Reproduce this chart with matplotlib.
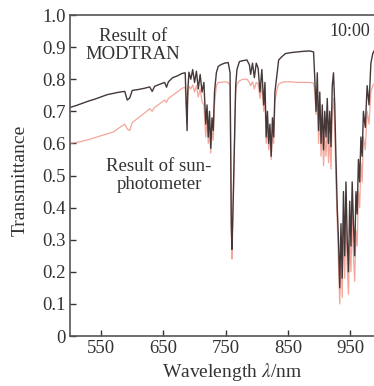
import matplotlib
matplotlib.use('Agg')
import matplotlib.pyplot as plt

# spectre (nm, transmittance)
wl = [500, 510, 520, 530, 540, 550, 560, 570, 580, 588, 592, 596, 600, 610, 620,
      628, 632, 636, 645, 652, 655, 658, 665, 672, 680, 685, 687, 688, 689, 691,
      694, 697, 700, 703, 706, 709, 712, 715, 718, 720, 722, 724, 726, 728, 730,
      732, 735, 738, 742, 748, 754, 757, 759, 760, 762, 764, 766, 768, 772, 778,
      784, 788, 790, 793, 796, 799, 802, 805, 808, 811, 813, 815, 817, 819, 821,
      823, 825, 827, 829, 832, 835, 840, 846, 855, 865, 875, 885, 891, 893, 895,
      897, 899, 901, 903, 905, 907, 909, 911, 913, 915, 917, 919, 921, 923, 925,
      927, 929, 931, 933, 935, 937, 939, 941, 943, 945, 947, 949, 951, 953, 955,
      957, 959, 961, 963, 965, 967, 969, 971, 974, 977, 980, 983, 986, 990]

modtran = [0.712, 0.718, 0.725, 0.732, 0.738, 0.745, 0.752, 0.756, 0.760, 0.762, 0.735, 0.742, 0.765, 0.768, 0.772,
           0.776, 0.762, 0.778, 0.785, 0.790, 0.775, 0.792, 0.805, 0.810, 0.818, 0.820, 0.700, 0.640, 0.760, 0.822,
           0.800, 0.830, 0.790, 0.825, 0.770, 0.815, 0.760, 0.790, 0.660, 0.720, 0.620, 0.700, 0.585, 0.680, 0.640,
           0.760, 0.820, 0.840, 0.845, 0.850, 0.852, 0.820, 0.350, 0.270, 0.420, 0.600, 0.780, 0.830, 0.855, 0.858,
           0.860, 0.845, 0.815, 0.850, 0.805, 0.850, 0.835, 0.760, 0.830, 0.720, 0.790, 0.620, 0.700, 0.600, 0.660,
           0.560, 0.680, 0.620, 0.760, 0.810, 0.860, 0.870, 0.880, 0.883, 0.885, 0.887, 0.888, 0.885, 0.800, 0.700,
           0.820, 0.640, 0.760, 0.600, 0.720, 0.580, 0.700, 0.620, 0.740, 0.600, 0.700, 0.590, 0.780, 0.820, 0.720,
           0.550, 0.400, 0.300, 0.150, 0.350, 0.180, 0.450, 0.250, 0.480, 0.300, 0.200, 0.420, 0.280, 0.480, 0.350,
           0.250, 0.450, 0.380, 0.550, 0.480, 0.620, 0.560, 0.700, 0.650, 0.780, 0.720, 0.850, 0.880, 0.895]

sunphoto = [0.600, 0.603, 0.607, 0.612, 0.618, 0.624, 0.630, 0.636, 0.650, 0.660, 0.645, 0.640, 0.665, 0.680, 0.695,
            0.708, 0.700, 0.712, 0.725, 0.735, 0.728, 0.740, 0.750, 0.760, 0.772, 0.775, 0.700, 0.660, 0.740, 0.778,
            0.770, 0.782, 0.760, 0.780, 0.745, 0.770, 0.730, 0.720, 0.620, 0.680, 0.600, 0.660, 0.570, 0.640, 0.610,
            0.720, 0.780, 0.790, 0.790, 0.792, 0.790, 0.780, 0.320, 0.240, 0.400, 0.580, 0.760, 0.785, 0.795, 0.800,
            0.800, 0.790, 0.780, 0.792, 0.770, 0.790, 0.785, 0.740, 0.780, 0.700, 0.740, 0.600, 0.650, 0.580, 0.620,
            0.550, 0.640, 0.600, 0.730, 0.765, 0.785, 0.790, 0.792, 0.792, 0.790, 0.790, 0.790, 0.788, 0.760, 0.690,
            0.770, 0.600, 0.700, 0.560, 0.660, 0.530, 0.620, 0.560, 0.660, 0.540, 0.620, 0.520, 0.700, 0.740, 0.650,
            0.480, 0.350, 0.220, 0.100, 0.250, 0.120, 0.350, 0.180, 0.380, 0.220, 0.130, 0.300, 0.200, 0.380, 0.250,
            0.170, 0.330, 0.280, 0.450, 0.400, 0.540, 0.480, 0.620, 0.580, 0.700, 0.660, 0.760, 0.780, 0.790]

xticks = [550, 650, 750, 850, 950]
yticks = [0, 0.1, 0.2, 0.3, 0.4, 0.5, 0.6, 0.7, 0.8, 0.9, 1.0]
ylabels = ['0', '0.1', '0.2', '0.3', '0.4', '0.5', '0.6', '0.7', '0.8', '0.9', '1.0']

plt.rcParams['font.family'] = ['Liberation Serif', 'DejaVu Serif']
plt.rcParams['mathtext.fontset'] = 'stix'
tc = '#333333'

fig = plt.figure(figsize=(3.74, 3.86), dpi=100)
ax = fig.add_axes([0.187, 0.1295, 0.813, 0.8316])

ax.plot(wl, sunphoto, color='#f09080', lw=0.9, alpha=0.8)
ax.plot(wl, modtran, color='#453838', lw=1.0)

ax.set_xlim(500, 988)
ax.set_ylim(0, 1.0)
ax.set_xticks(xticks)
ax.set_yticks(yticks)
ax.set_yticklabels(ylabels)
ax.tick_params(direction='in', length=4, width=1, colors=tc, labelsize=13.5, pad=3)
ax.spines['right'].set_visible(False)
for s in ['left', 'bottom', 'top']:
    ax.spines[s].set_color('#555555')
    ax.spines[s].set_linewidth(1.2)

ax.text(601, 0.906, 'Result of\nMODTRAN', ha='center', va='center', fontsize=13.5, color=tc, linespacing=1.05)
ax.text(643, 0.50, 'Result of sun-\nphotometer', ha='center', va='center', fontsize=13.5, color=tc, linespacing=1.05)
ax.text(916, 0.95, '10:00', ha='left', va='center', fontsize=13, color=tc)

fig.text(20 / 374, 1 - 180 / 386, 'Transmittance', rotation=90, ha='center', va='center', fontsize=14, color=tc)
fig.text(232 / 374, 1 - 372 / 386, 'Wavelength $\\mathit{\\lambda}$/nm', ha='center', va='center', fontsize=14, color=tc)

fig.savefig('out.png', dpi=100)
